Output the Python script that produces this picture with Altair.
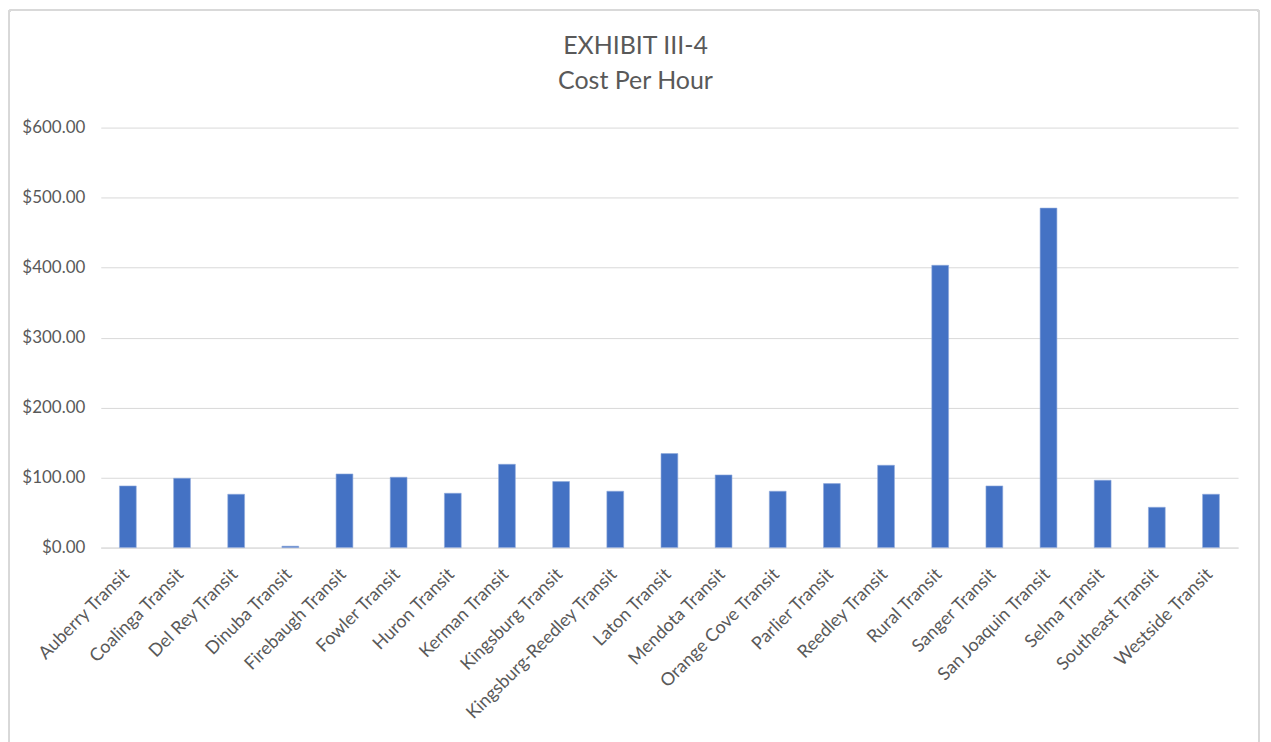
import altair as alt
import pandas as pd

agencies = [
    "Auberry Transit", "Coalinga Transit", "Del Rey Transit", "Dinuba Transit",
    "Firebaugh Transit", "Fowler Transit", "Huron Transit", "Kerman Transit",
    "Kingsburg Transit", "Kingsburg-Reedley Transit", "Laton Transit",
    "Mendota Transit", "Orange Cove Transit", "Parlier Transit", "Reedley Transit",
    "Rural Transit", "Sanger Transit", "San Joaquin Transit", "Selma Transit",
    "Southeast Transit", "Westside Transit",
]
cost_per_hour = [
    88.1, 99.0, 76.2, 2.0, 105.2, 100.5, 77.6, 119.0, 94.3, 80.5, 134.3,
    103.8, 80.5, 91.4, 117.6, 403.3, 88.1, 485.0, 96.2, 57.6, 76.2,
]
y_ticks = [0, 100, 200, 300, 400, 500, 600]

df = pd.DataFrame({"Agency": agencies, "Cost": cost_per_hour})

W, H = 1140, 421
PAD_L, PAD_T = 93, 119

font = "Lato"
grey = "#595959"

bars = alt.Chart(df).mark_bar(color="#4472C4", stroke="#8FAADC", strokeWidth=0.6).encode(
    x=alt.X(
        "Agency:N",
        sort=None,
        title=None,
        scale=alt.Scale(paddingInner=0.69, paddingOuter=0.345),
        axis=alt.Axis(
            labelAngle=-45,
            labelAlign="right",
            labelBaseline="middle",
            labelPadding=24,
            labelOffset=-1,
            labelFontSize=18,
            labelLimit=400,
            labelColor=grey,
            labelFont=font,
            ticks=False,
            domain=True,
            domainColor="#D9D9D9",
            grid=False,
            labelOverlap=False,
        ),
    ),
    y=alt.Y(
        "Cost:Q",
        title=None,
        scale=alt.Scale(domain=[0, 600], nice=False),
        axis=alt.Axis(
            values=y_ticks,
            format="$,.2f",
            labelFontSize=17,
            labelColor=grey,
            labelFont=font,
            labelPadding=16,
            ticks=False,
            domain=False,
            gridColor="#D9D9D9",
            gridWidth=1,
        ),
    ),
)

border = alt.Chart(df).mark_rect(
    fill=None, stroke="#D9D9D9", strokeWidth=1.5, cornerRadius=3, clip=False
).encode(
    x=alt.value(-PAD_L + 1),
    x2=alt.value(1262 - 101),
    y=alt.value(-PAD_T + 1),
    y2=alt.value(742 - 127 + 20),
)

chart = alt.layer(border, bars).properties(
    width=W,
    height=H,
    autosize=alt.AutoSizeParams(type="none"),
    padding={"left": PAD_L, "top": PAD_T, "right": 25, "bottom": 200},
    title=alt.Title(
        ["EXHIBIT III-4", "Cost Per Hour"],
        fontSize=25,
        font=font,
        fontWeight="normal",
        color=grey,
        lineHeight=35,
        anchor="middle",
        dx=-34,
        dy=85,
        offset=0,
    ),
).configure_view(stroke=None)

chart.save("out.html", embed_options={"renderer": "svg", "actions": False})
